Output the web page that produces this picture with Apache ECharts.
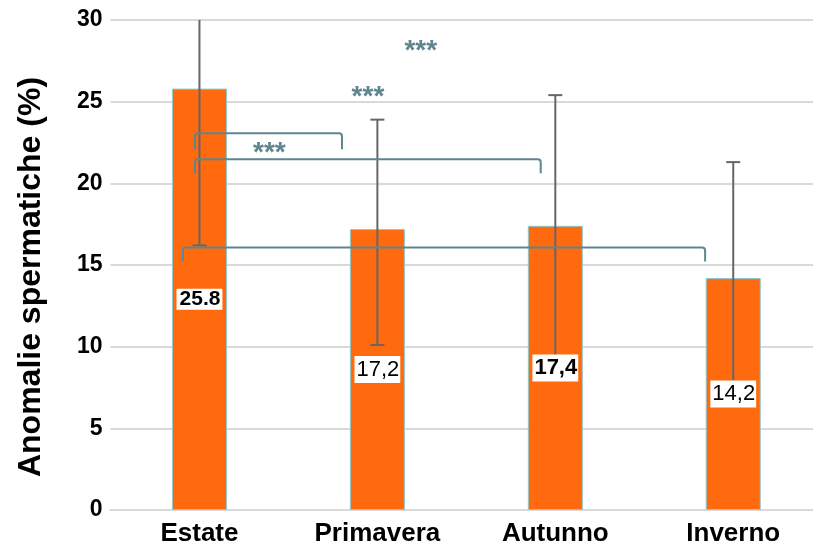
<!DOCTYPE html>
<html>
<head>
<meta charset="utf-8">
<script src="https://cdn.jsdelivr.net/npm/echarts@6/dist/echarts.min.js"></script>
<style>
  html, body { margin: 0; padding: 0; background: #ffffff; }
  #chart { width: 813px; height: 545px; }
</style>
</head>
<body>
<div id="chart"></div>
<script>
// Seasonal sperm anomaly rates (%) with error ranges
const seasons = ['Estate', 'Primavera', 'Autunno', 'Inverno'];
const anomalies = [25.8, 17.2, 17.4, 14.2];
const errorLow = [16.2, 10.1, 9.4, 7.1];
const errorHigh = [35.4, 23.9, 25.4, 21.3];
const valueLabels = ['25.8', '17,2', '17,4', '14,2'];
const yTicks = [0, 5, 10, 15, 20, 25, 30];

// Significance comparisons: [from season, to season, bracket level]
const comparisons = [[0, 1, 23.07], [0, 2, 21.47], [0, 3, 16.07]];
const significance = ['***', '***', '***'];

// ---- presentation ----
const FONT = '"Liberation Sans", Arial, Helvetica, sans-serif';
const ORANGE = '#FF6A0E';
const SIG = '#5f8590';

// bracket ends, as fraction of a category band relative to its centre
const bracketEnds = [[-0.025, -0.199], [-0.025, -0.082], [-0.094, -0.158]];
const bracketDrop = [16, 14, 14];
// where each "***" sits: [category position, value]
const sigMarkAt = [[0.393, 21.85], [0.947, 25.27], [1.244, 28.07]];

const labelStyles = [
  { fontSize: 21, fontWeight: 'bold', lineHeight: 21, padding: [0, 2, 0, 3] },
  { fontSize: 22, fontWeight: 'normal', lineHeight: 25, padding: [1, 1, 1, 2] },
  { fontSize: 22, fontWeight: 'bold', lineHeight: 25, padding: [1, 1, 1, 2] },
  { fontSize: 22, fontWeight: 'normal', lineHeight: 25, padding: [1, 1, 1, 2] }
];

const chart = echarts.init(document.getElementById('chart'), null, { renderer: 'canvas' });

function renderError(params, api) {
  const i = api.value(0);
  const lo = api.coord([i, api.value(1)]);
  const hi = api.coord([i, api.value(2)]);
  const cap = 7;
  const st = { stroke: '#666666', lineWidth: 2 };
  return {
    type: 'group',
    children: [
      { type: 'line', shape: { x1: lo[0], y1: lo[1], x2: hi[0], y2: hi[1] }, style: st },
      { type: 'line', shape: { x1: lo[0] - cap, y1: lo[1], x2: lo[0] + cap, y2: lo[1] }, style: st },
      { type: 'line', shape: { x1: hi[0] - cap, y1: hi[1], x2: hi[0] + cap, y2: hi[1] }, style: st }
    ]
  };
}

function renderBracket(params, api) {
  const k = params.dataIndex;
  const band = api.size([1, 0])[0];
  const a = api.coord([api.value(0), api.value(2)]);
  const b = api.coord([api.value(1), api.value(2)]);
  const x1 = a[0] + bracketEnds[k][0] * band;
  const x2 = b[0] + bracketEnds[k][1] * band;
  const y = a[1];
  const d = bracketDrop[k];
  const r = 3;
  const path = 'M' + x1 + ' ' + (y + d) +
    ' L' + x1 + ' ' + (y + r) +
    ' Q' + x1 + ' ' + y + ' ' + (x1 + r) + ' ' + y +
    ' L' + (x2 - r) + ' ' + y +
    ' Q' + x2 + ' ' + y + ' ' + x2 + ' ' + (y + r) +
    ' L' + x2 + ' ' + (y + d);
  const m = sigMarkAt[k];
  const band0 = api.coord([0, m[1]]);
  const mx = band0[0] + m[0] * band;
  return {
    type: 'group',
    children: [
      { type: 'path', shape: { pathData: path }, style: { stroke: SIG, lineWidth: 2, fill: null } },
      {
        type: 'text',
        style: {
          x: mx, y: band0[1], text: significance[k], fill: SIG,
          fontSize: 28, fontWeight: 'bold', fontFamily: FONT,
          align: 'center', verticalAlign: 'middle'
        }
      }
    ]
  };
}

chart.setOption({
  animation: false,
  backgroundColor: '#ffffff',
  grid: { left: 110.5, right: -9.2, top: 20, bottom: 35, containLabel: false, outerBoundsMode: 'none' },
  xAxis: {
    type: 'category',
    data: seasons,
    axisLine: { show: true, lineStyle: { color: '#d9d9d9', width: 2 } },
    axisTick: { show: false },
    axisLabel: { color: '#000', fontSize: 26, fontWeight: 'bold', fontFamily: FONT, margin: 11 }
  },
  yAxis: {
    type: 'value',
    min: yTicks[0],
    max: yTicks[yTicks.length - 1],
    interval: yTicks[1] - yTicks[0],
    axisLine: { show: false },
    axisTick: { show: false },
    splitLine: { lineStyle: { color: '#d9d9d9', width: 2 } },
    axisLabel: { color: '#000', fontSize: 23, fontWeight: 'bold', fontFamily: FONT, margin: 8 }
  },
  graphic: [{
    type: 'text',
    x: 31, y: 277,
    rotation: Math.PI / 2,
    style: {
      text: 'Anomalie spermatiche (%)',
      fill: '#000', fontSize: 32, fontWeight: 'bold', fontFamily: FONT,
      align: 'center', verticalAlign: 'middle'
    }
  }],
  series: [
    {
      type: 'bar',
      data: anomalies,
      barWidth: 55,
      z: 2,
      silent: true,
      itemStyle: { color: ORANGE, borderColor: '#8ec9cc', borderWidth: 1 }
    },
    {
      type: 'custom',
      z: 3,
      clip: true,
      silent: true,
      data: seasons.map((s, i) => [i, errorLow[i], errorHigh[i]]),
      renderItem: renderError
    },
    {
      type: 'bar',
      data: anomalies.map((v, i) => ({
        value: v,
        label: Object.assign({ formatter: valueLabels[i] }, labelStyles[i])
      })),
      barWidth: 55,
      barGap: '-100%',
      z: 5,
      silent: true,
      itemStyle: { color: 'rgba(0,0,0,0)' },
      label: {
        show: true, position: 'inside', color: '#000', fontFamily: FONT,
        backgroundColor: '#ffffff'
      }
    },
    {
      type: 'custom',
      z: 4,
      silent: true,
      data: comparisons,
      renderItem: renderBracket
    }
  ]
});
</script>
</body>
</html>
